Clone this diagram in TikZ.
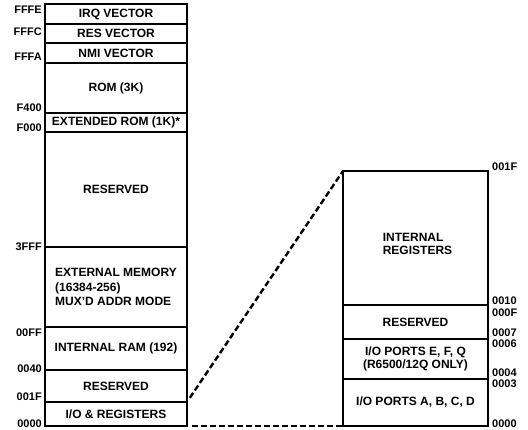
\documentclass[tikz,border=0pt]{standalone}
\usepackage{fontspec}
\setmainfont{Liberation Sans}
\begin{document}
\begin{tikzpicture}[x=1pt,y=-1pt,
  lbox/.style={draw, line width=1.2pt, minimum width=142pt, inner sep=0pt, outer sep=0pt, font=\fontsize{12}{14.5}\selectfont\bfseries, align=center},
  rbox/.style={draw, line width=1.2pt, minimum width=145pt, inner sep=0pt, outer sep=0pt, font=\fontsize{12}{13}\selectfont\bfseries, align=center},
  addrl/.style={anchor=east, inner sep=0pt, font=\fontsize{11}{12}\selectfont\bfseries},
  addrr/.style={anchor=west, inner sep=0pt, font=\fontsize{11}{12}\selectfont\bfseries},
  txt/.style={inner sep=0pt, font=\fontsize{12}{13}\selectfont\bfseries, align=left},
  link/.style={dashed, line width=2.4pt, dash pattern=on 6pt off 3pt}]
\useasboundingbox (0,0) rectangle (528,430);
% left memory map
\node[lbox, minimum height=20pt] (irq) at (116,14) {IRQ VECTOR};
\node[lbox, minimum height=19pt] (res) at (116,33.5) {RES VECTOR};
\node[lbox, minimum height=20pt] (nmi) at (116,53) {NMI VECTOR};
\node[lbox, minimum height=50pt] (rom) at (116,88) {ROM (3K)};
\node[lbox, minimum height=19pt] (extrom) at (116,122.5) {EXTENDED ROM (1K)*};
\node[lbox, minimum height=115pt] (resa) at (116,189.5) {RESERVED};
\node[lbox, minimum height=80pt, align=left] (ext) at (116,287) {EXTERNAL MEMORY\\(16384-256)\\MUX'D ADDR MODE};
\node[lbox, minimum height=43pt] (iram) at (116,348.5) {INTERNAL RAM (192)};
\node[lbox, minimum height=32pt] (resb) at (116,386) {RESERVED};
\node[lbox, minimum height=24pt] (io) at (116,414) {I/O \& REGISTERS};
\draw[line width=1.8pt] (irq.north west) -- (io.south west);
% left addresses
\node[addrl] (aFFFE) at (42,10) {FFFE};
\node[addrl] (aFFFC) at (42,32) {FFFC};
\node[addrl] (aFFFA) at (42,57) {FFFA};
\node[addrl] (aF400) at (42,108) {F400};
\node[addrl] (aF000) at (42,128) {F000};
\node[addrl] (a3FFF) at (42,247) {3FFF};
\node[addrl] (a00FF) at (42,333) {00FF};
\node[addrl] (a0040) at (42,369) {0040};
\node[addrl] (a001F) at (42,397) {001F};
\node[addrl] (a0000) at (42,423.5) {0000};
% right expanded map
\node[rbox, minimum height=134pt] (intreg) at (415.5,238) {};
\node[txt] (intregtxt) at (417.5,243.5) {INTERNAL\\REGISTERS};
\node[rbox, minimum height=34pt] (resc) at (415.5,322) {RESERVED};
\node[rbox, minimum height=40pt] (ioefq) at (415.5,359) {I/O PORTS E, F, Q\\(R6500/12Q ONLY)};
\node[rbox, minimum height=47pt] (ioabcd) at (415.5,402.5) {I/O PORTS A, B, C, D};
% right addresses
\node[addrr] (b001F) at (492,167) {001F};
\node[addrr] (b0010) at (492,301) {0010};
\node[addrr] (b000F) at (492,313) {000F};
\node[addrr] (b0007) at (492,333) {0007};
\node[addrr] (b0006) at (492,344) {0006};
\node[addrr] (b0004) at (492,373) {0004};
\node[addrr] (b0003) at (492,384) {0003};
\node[addrr] (b0000) at (492,423.5) {0000};
% dashed connectors
\draw[link, shorten <=5pt] (io.north east) -- (intreg.north west);
\draw[link, shorten <=5pt] (io.south east) -- (ioabcd.south west);
\end{tikzpicture}
\end{document}
